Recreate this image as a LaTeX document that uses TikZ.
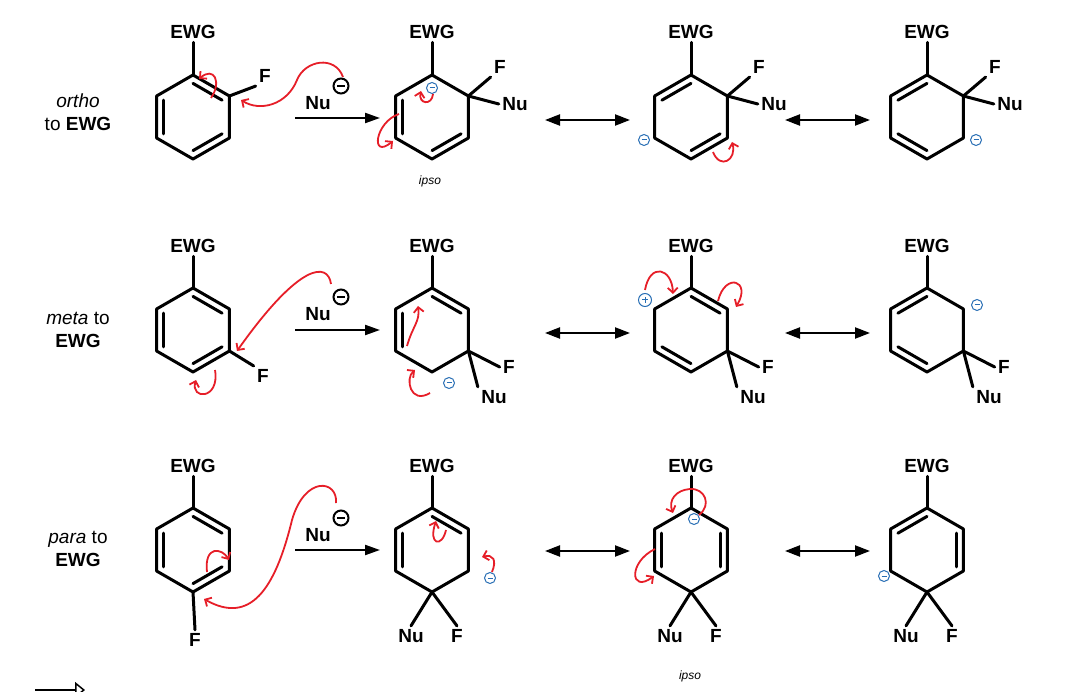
\documentclass[tikz,border=0pt]{standalone}
\usepackage{fontspec}
\setmainfont{Liberation Sans}
\usetikzlibrary{calc}
\usetikzlibrary{arrows.meta}
\definecolor{curly}{RGB}{230,30,40}
\definecolor{hand}{RGB}{40,110,180}
\newcommand{\ring}[3] % name, x in px, y in px
{
	% six corners, 0 at top, clockwise
	\coordinate (#1c) at (#2,#3);
	\coordinate (#10) at (#2,#3-42);
	\coordinate (#11) at (#2+36.4,#3-21);
	\coordinate (#12) at (#2+36.4,#3+21);
	\coordinate (#13) at (#2,#3+42);
	\coordinate (#14) at (#2-36.4,#3+21);
	\coordinate (#15) at (#2-36.4,#3-21);
	\draw[bond] (#10) -- (#11) -- (#12) -- (#13) -- (#14) -- (#15) -- cycle;
}
\newcommand{\dbl}[3] % inner line of a double bond
{
	\draw[bond] ($(#1#2)!0.2!(#1c)$) -- ($(#1#3)!0.2!(#1c)$);
}
\newcommand{\minuscharge}[2] % small hand drawn charge
{
	\draw[hand, line width=1pt] (#1,#2) circle (5.5);
	\draw[hand, line width=1pt] (#1-2.5,#2) -- (#1+2.5,#2);
}
\newcommand{\pluscharge}[2]
{
	\draw[hand, line width=1pt] (#1,#2) circle (6.5);
	\draw[hand, line width=1pt] (#1-3,#2) -- (#1+3,#2);
	\draw[hand, line width=1pt] (#1,#2-3) -- (#1,#2+3);
}
\newcommand{\numinus}[2] % Nu with its charge
{
	\node[lbl] at (#1,#2) {Nu};
	\draw[line width=2pt] (#1+23,#2-17) circle (7.5);
	\draw[line width=2pt] (#1+19,#2-17) -- (#1+27,#2-17);
}
\begin{document}
\begin{tikzpicture}[x=1pt, y=-1pt,
	bond/.style={line width=3pt, line cap=round, line join=round},
	lbl/.style={font=\fontsize{19}{22}\selectfont\bfseries},
	side/.style={font=\fontsize{19}{23}\selectfont, align=center},
	curl/.style={curly, line width=1.8pt, -{Straight Barb[length=5pt]}},
	hw/.style={font=\itshape\large},
	rxn/.style={line width=2.2pt, -{Triangle[length=15pt,width=10pt]}},
	res/.style={line width=2.2pt, {Triangle[length=15pt,width=11pt]}-{Triangle[length=15pt,width=11pt]}}]
	\useasboundingbox (0,0) rectangle (1076,692);

	% ---------- ortho ----------
	\node[side] at (78,112) {\textit{ortho}\\to \textbf{EWG}};
	\ring{a}{193}{117}
	\dbl{a}{0}{1} \dbl{a}{2}{3} \dbl{a}{4}{5}
	\node[lbl] (ewga) at (193,32) {EWG};
	\draw[bond] (a0) -- (ewga.south);
	\node[lbl] (fa) at (265,76) {F};
	\draw[bond] (a1) -- (fa.south west);
	\draw[rxn] (295,118) -- (380,118);
	\numinus{318}{103}
	\draw[curl] (343,77) .. controls (335,55) and (305,60) .. (297,80) .. controls (287,105) and (260,112) .. (241,100);
	\draw[curl] (211,98) .. controls (222,82) and (214,66) .. (199,79);

	\ring{b}{432}{117}
	\dbl{b}{4}{5} \dbl{b}{2}{3}
	\node[lbl] (ewgb) at (432,32) {EWG};
	\draw[bond] (b0) -- (ewgb.south);
	\node[lbl] (fb) at (500,67) {F};
	\draw[bond] (b1) -- (fb.south west);
	\node[lbl] (nub) at (515,104) {Nu};
	\draw[bond] (b1) -- (nub.west);
	\minuscharge{432}{88}
	\draw[curl] (433,94) .. controls (432,106) and (418,104) .. (421,91);
	\draw[curl] (399,114) .. controls (375,122) and (370,160) .. (393,141);
	\node[hw] at (430,181) {ipso};

	\draw[res] (545,120) -- (630,120);
	\ring{c}{691}{117}
	\dbl{c}{5}{0} \dbl{c}{2}{3}
	\node[lbl] (ewgc) at (691,32) {EWG};
	\draw[bond] (c0) -- (ewgc.south);
	\node[lbl] (fc) at (759,67) {F};
	\draw[bond] (c1) -- (fc.south west);
	\node[lbl] (nuc) at (774,104) {Nu};
	\draw[bond] (c1) -- (nuc.west);
	\minuscharge{644}{140}
	\draw[curl] (713,152) .. controls (720,170) and (737,160) .. (732,142);

	\draw[res] (785,120) -- (870,120);
	\ring{d}{927}{117}
	\dbl{d}{5}{0} \dbl{d}{3}{4}
	\node[lbl] (ewgd) at (927,32) {EWG};
	\draw[bond] (d0) -- (ewgd.south);
	\node[lbl] (fd) at (995,67) {F};
	\draw[bond] (d1) -- (fd.south west);
	\node[lbl] (nud) at (1010,104) {Nu};
	\draw[bond] (d1) -- (nud.west);
	\minuscharge{976}{140}

	% ---------- meta ----------
	\node[side] at (78,330) {\textit{meta} to\\\textbf{EWG}};
	\ring{e}{193}{330}
	\dbl{e}{0}{1} \dbl{e}{2}{3} \dbl{e}{4}{5}
	\node[lbl] (ewge) at (193,246) {EWG};
	\draw[bond] (e0) -- (ewge.south);
	\node[lbl] (fe) at (263,376) {F};
	\draw[bond] (e2) -- (fe.north west);
	\draw[rxn] (295,330) -- (380,330);
	\numinus{318}{314}
	\draw[curl] (331,284) .. controls (328,262) and (300,262) .. (237,351);
	\draw[curl] (215,370) .. controls (220,400) and (190,400) .. (196,380);

	\ring{f}{432}{330}
	\dbl{f}{0}{1} \dbl{f}{4}{5}
	\node[lbl] (ewgf) at (432,246) {EWG};
	\draw[bond] (f0) -- (ewgf.south);
	\node[lbl] (ff) at (509,367) {F};
	\draw[bond] (f2) -- (ff.west);
	\node[lbl] (nuf) at (494,397) {Nu};
	\draw[bond] (f2) -- (nuf.north west);
	\minuscharge{449}{383}
	\draw[curl] (407,346) .. controls (413,325) and (420,322) .. (418,306);
	\draw[curl] (430,393) .. controls (410,405) and (405,378) .. (415,370);

	\draw[res] (545,333) -- (630,333);
	\ring{g}{691}{330}
	\dbl{g}{0}{1} \dbl{g}{3}{4}
	\node[lbl] (ewgg) at (691,246) {EWG};
	\draw[bond] (g0) -- (ewgg.south);
	\node[lbl] (fg) at (768,367) {F};
	\draw[bond] (g2) -- (fg.west);
	\node[lbl] (nug) at (753,397) {Nu};
	\draw[bond] (g2) -- (nug.north west);
	\pluscharge{645}{300}
	\draw[curl] (645,290) .. controls (650,262) and (672,268) .. (673,294);
	\draw[curl] (718,301) .. controls (725,272) and (752,280) .. (736,307);

	\draw[res] (785,333) -- (870,333);
	\ring{h}{927}{330}
	\dbl{h}{5}{0} \dbl{h}{3}{4}
	\node[lbl] (ewgh) at (927,246) {EWG};
	\draw[bond] (h0) -- (ewgh.south);
	\node[lbl] (fh) at (1004,367) {F};
	\draw[bond] (h2) -- (fh.west);
	\node[lbl] (nuh) at (989,397) {Nu};
	\draw[bond] (h2) -- (nuh.north west);
	\minuscharge{977}{305}

	% ---------- para ----------
	\node[side] at (78,549) {\textit{para} to\\\textbf{EWG}};
	\ring{k}{193}{550}
	\dbl{k}{0}{1} \dbl{k}{2}{3} \dbl{k}{4}{5}
	\node[lbl] (ewgk) at (193,466) {EWG};
	\draw[bond] (k0) -- (ewgk.south);
	\node[lbl] (fk) at (195,640) {F};
	\draw[bond] (k3) -- (fk.north);
	\draw[rxn] (295,550) -- (380,550);
	\numinus{318}{535}
	\draw[curl] (336,503) .. controls (338,480) and (305,475) .. (292,520) .. controls (275,590) and (250,625) .. (204,599);
	\draw[curl] (207,572) .. controls (204,545) and (222,548) .. (229,560);

	\ring{m}{432}{550}
	\dbl{m}{0}{1} \dbl{m}{4}{5}
	\node[lbl] (ewgm) at (432,466) {EWG};
	\draw[bond] (m0) -- (ewgm.south);
	\node[lbl] (num) at (411,636) {Nu};
	\draw[bond] (m3) -- (num.north);
	\node[lbl] (fm) at (457,636) {F};
	\draw[bond] (m3) -- (fm.north);
	\minuscharge{490}{578}
	\draw[curl] (446,530) .. controls (442,548) and (428,545) .. (436,521);
	\draw[curl] (492,572) .. controls (497,560) and (493,554) .. (482,557);

	\draw[res] (545,551) -- (630,551);
	\ring{n}{691}{550}
	\dbl{n}{4}{5} \dbl{n}{1}{2}
	\node[lbl] (ewgn) at (691,466) {EWG};
	\draw[bond] (n0) -- (ewgn.south);
	\node[lbl] (nun) at (670,636) {Nu};
	\draw[bond] (n3) -- (nun.north);
	\node[lbl] (fn) at (716,636) {F};
	\draw[bond] (n3) -- (fn.north);
	\minuscharge{694}{519}
	\draw[curl] (699,515) .. controls (712,505) and (705,488) .. (690,489) .. controls (676,490) and (668,500) .. (673,513);
	\draw[curl] (655,549) .. controls (628,562) and (630,594) .. (654,576);
	\node[hw] at (690,676) {ipso};

	\draw[res] (785,551) -- (870,551);
	\ring{p}{927}{550}
	\dbl{p}{5}{0} \dbl{p}{1}{2}
	\node[lbl] (ewgp) at (927,466) {EWG};
	\draw[bond] (p0) -- (ewgp.south);
	\node[lbl] (nup) at (906,636) {Nu};
	\draw[bond] (p3) -- (nup.north);
	\node[lbl] (fp) at (952,636) {F};
	\draw[bond] (p3) -- (fp.north);
	\minuscharge{884}{576}

	% cut off arrow at the bottom edge
	\draw[line width=1.5pt, -{Triangle[open,length=10pt,width=16pt]}] (35,690) -- (85,690);
\end{tikzpicture}
\end{document}
